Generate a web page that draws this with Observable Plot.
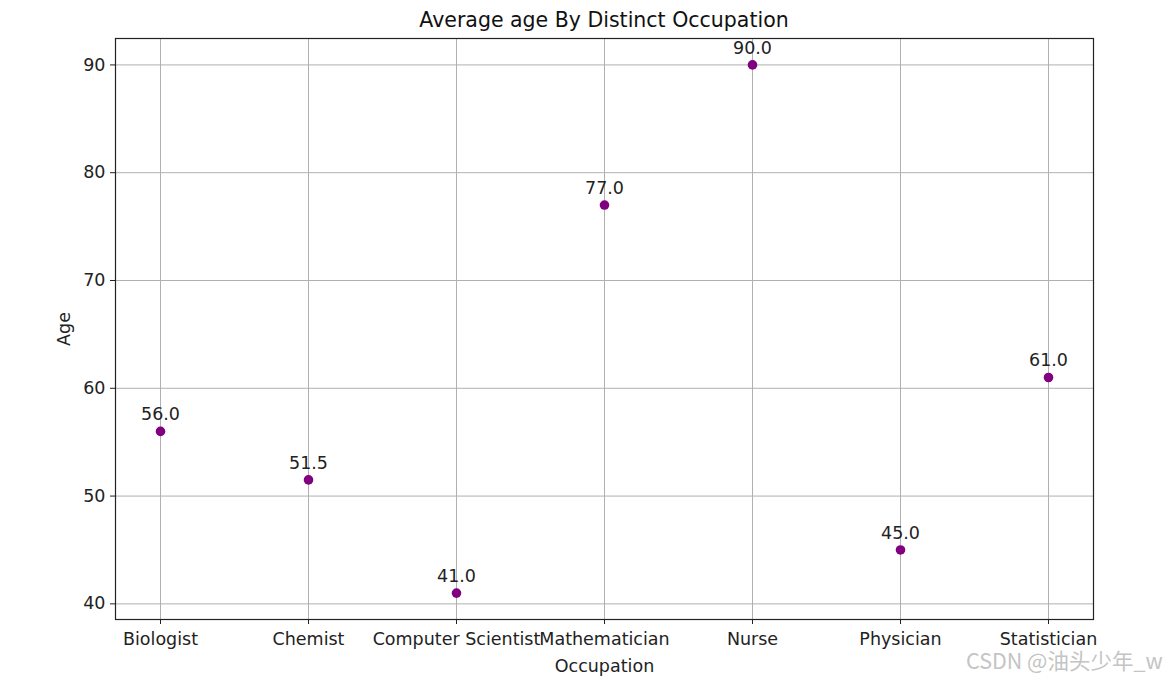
<!DOCTYPE html>
<html>
<head>
<meta charset="utf-8">
<script src="https://cdn.jsdelivr.net/npm/d3@7"></script>
<script src="https://cdn.jsdelivr.net/npm/@observablehq/plot@0.6"></script>
<style>
  html, body { margin: 0; padding: 0; background: #fff; }
  body { width: 1170px; height: 678px; position: relative; overflow: hidden; font-family: "DejaVu Sans", sans-serif; }
  #title { height: 36px; line-height: 40px; text-align: center; font-size: 20.5px; color: #111; padding-left: 38px; box-sizing: border-box; }
  #wm { position: absolute; left: 966px; top: 649px; font-size: 21.5px; line-height: 1; color: #c4c4c4; font-family: "Noto Sans CJK SC", "DejaVu Sans", sans-serif; white-space: nowrap; }
  svg { display: block; }
</style>
</head>
<body>
<div id="title">Average age By Distinct Occupation</div>
<div id="chart"></div>
<div id="wm">CSDN @油头少年_w</div>
<script>
const occupations = ["Biologist", "Chemist", "Computer Scientist", "Mathematician", "Nurse", "Physician", "Statistician"];
const ages = [56.0, 51.5, 41.0, 77.0, 90.0, 45.0, 61.0];
const yTicks = [40, 50, 60, 70, 80, 90];

const data = occupations.map((o, i) => ({occupation: o, age: ages[i]}));

const chart = Plot.plot({
  width: 1170,
  height: 642,
  marginTop: 2,
  marginBottom: 59,
  marginLeft: 115,
  marginRight: 77,
  style: {fontFamily: "DejaVu Sans, sans-serif", fontSize: "17px", color: "#222", background: "#fff"},
  x: {type: "point", domain: occupations, padding: 0.3, align: 0.5},
  y: {domain: [38.55, 92.45]},
  marks: [
    Plot.gridX(occupations, {stroke: "#b0b0b0", strokeOpacity: 1, strokeWidth: 1}),
    Plot.gridY(yTicks, {stroke: "#b0b0b0", strokeOpacity: 1, strokeWidth: 1}),
    Plot.frame({stroke: "#222", strokeWidth: 1.2}),
    Plot.axisX({tickSize: 5, tickPadding: 8, fontSize: 17.5, label: "Occupation", labelAnchor: "center", labelArrow: "none", labelOffset: 52}),
    Plot.axisY(yTicks, {tickSize: 5, tickPadding: 5, fontSize: 17.5, label: "Age", labelAnchor: "center", labelArrow: "none", labelOffset: 58}),
    Plot.dot(data, {x: "occupation", y: "age", r: 4.8, fill: "#800080", stroke: "none"}),
    Plot.text(data, {x: "occupation", y: "age", text: d => d3.format(".1f")(d.age), dy: -17, fontSize: 17.5, fill: "#222"})
  ]
});
document.getElementById("chart").appendChild(chart);
</script>
</body>
</html>
